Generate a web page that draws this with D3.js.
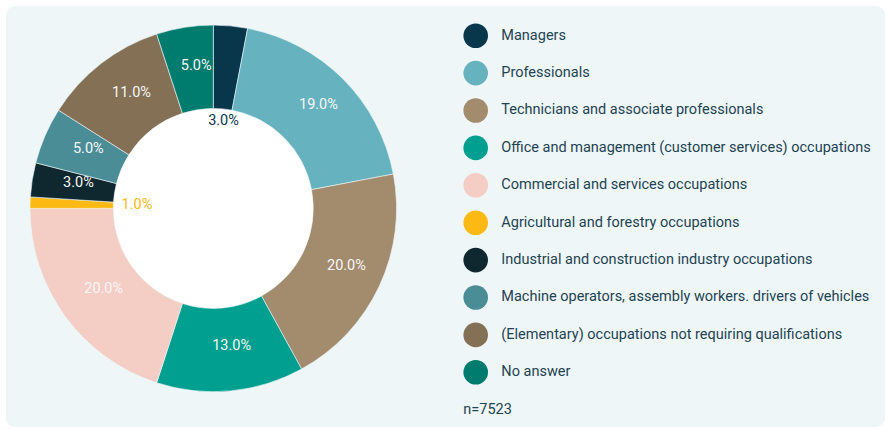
<!DOCTYPE html>
<html>
<head>
<meta charset="utf-8">
<script src="https://cdn.jsdelivr.net/npm/d3@7"></script>
<style>
  html, body { margin: 0; padding: 0; background: #ffffff; }
  svg { display: block; font-family: Roboto, "Noto Sans", sans-serif; }
</style>
</head>
<body>
<div id="chart"></div>
<script>

// Occupation shares (percent), clockwise from 12 o'clock
var categories = [
  'Managers',
  'Professionals',
  'Technicians and associate professionals',
  'Office and management (customer services) occupations',
  'Commercial and services occupations',
  'Agricultural and forestry occupations',
  'Industrial and construction industry occupations',
  'Machine operators, assembly workers. drivers of vehicles',
  '(Elementary) occupations not requiring qualifications',
  'No answer'
];
var values = [3, 19, 20, 13, 20, 1, 3, 5, 11, 5];
var colors = ['#08364b', '#66b3bf', '#a38b6e', '#009f8f', '#f4cdc4',
              '#fdb913', '#0f2830', '#4a8d97', '#837055', '#007c6f'];
var note = 'n=7523';

var width = 887,
    height = 429,
    cx = 213.3,
    cy = 208.4,
    outerR = 183.3,
    innerR = 100;

var svg = d3.select('#chart')
  .append('svg')
    .attr('width', width)
    .attr('height', height);

// Panel background
svg.append('rect')
  .attr('x', 6)
  .attr('y', 6)
  .attr('width', 879)
  .attr('height', 421)
  .attr('rx', 9)
  .attr('fill', '#eef6f8');

var g = svg.append('g').attr('transform', 'translate(' + cx + ',' + cy + ')');

// Hole
g.append('circle')
  .attr('r', innerR)
  .attr('fill', '#ffffff');

var pie = d3.pie().sort(null).value(function(d){ return d.value; });
var arc = d3.arc().innerRadius(innerR).outerRadius(outerR);

var data = values.map(function(v, i){
  return { name: categories[i], value: v, color: colors[i] };
});
var arcs = pie(data);

g.selectAll('.slice')
  .data(arcs)
  .enter()
    .append('path')
      .attr('class', 'slice')
      .attr('d', arc)
      .attr('fill', function(d){ return d.data.color; })
      .attr('stroke', '#eef6f8')
      .attr('stroke-width', 0.6);

// Labels: inside the ring if they fit, otherwise just inside the hole
var midR = (innerR + outerR) / 2;
var fontSize = 14.5;
var labels = g.selectAll('.slice-label')
  .data(arcs)
  .enter()
    .append('text')
      .attr('class', 'slice-label')
      .attr('text-anchor', 'middle')
      .attr('dominant-baseline', 'central')
      .style('font-size', fontSize + 'px')
      .text(function(d){ return d.data.value.toFixed(1) + '%'; });

labels.each(function(d){
  var el = d3.select(this);
  var w = this.getComputedTextLength(),
      h = 11;
  var a = (d.startAngle + d.endAngle) / 2;
  var span = (d.endAngle - d.startAngle) * midR;
  var need = w * Math.abs(Math.cos(a)) + h * Math.abs(Math.sin(a));
  var x, y, fill;
  if (need < span) {
    x = midR * Math.sin(a) + 5;
    y = -midR * Math.cos(a) - 3.5;
    fill = '#f7f7f7';
  } else {
    var r = innerR - 6 - (w / 2 * Math.abs(Math.sin(a)) + h / 2 * Math.abs(Math.cos(a)));
    x = r * Math.sin(a) + 2;
    y = -r * Math.cos(a) - 1.5;
    fill = d.data.color;
  }
  el.attr('x', x)
    .attr('y', y)
    .attr('fill', fill);
});

// Legend
var legendX = 475.7,
    legendY = 35,
    rowH = 37.4;

var legend = svg.selectAll('.legend-item')
  .data(data)
  .enter()
    .append('g')
      .attr('class', 'legend-item')
      .attr('transform', function(d, i){ return 'translate(' + legendX + ',' + (legendY + i * rowH) + ')'; });

legend.append('circle')
  .attr('r', 12.3)
  .attr('cy', 0.7)
  .attr('fill', function(d){ return d.color; });

legend.append('text')
  .attr('x', 25.6)
  .attr('dominant-baseline', 'central')
  .attr('fill', '#1e4352')
  .style('font-size', '14.5px')
  .text(function(d){ return d.name; });

svg.append('text')
  .attr('x', 463.3)
  .attr('y', legendY + values.length * rowH)
  .attr('dominant-baseline', 'central')
  .attr('fill', '#1e4352')
  .style('font-size', '14.5px')
  .text(note);

</script>
</body>
</html>
